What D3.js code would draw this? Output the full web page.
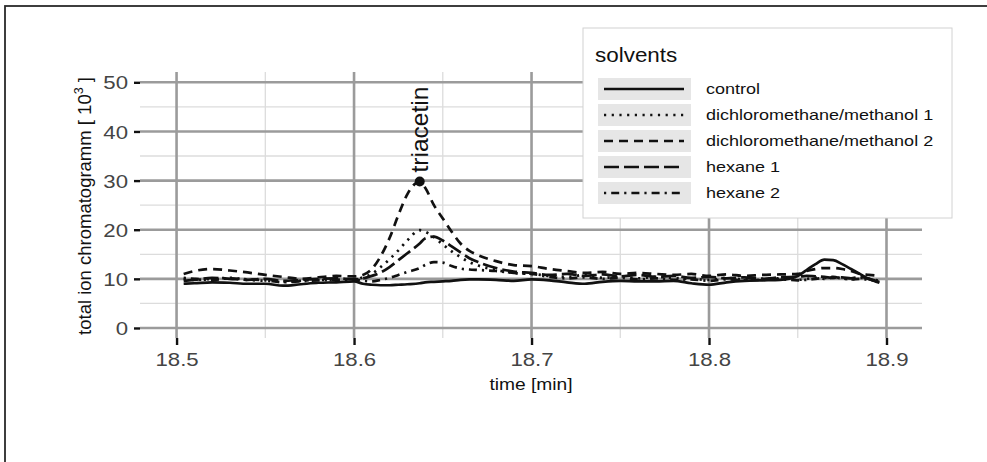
<!DOCTYPE html>
<html>
<head>
<meta charset="utf-8">
<script src="https://cdn.jsdelivr.net/npm/d3@7"></script>
<style>
  body { margin: 0; background: #fff; }
  svg { display: block; font-family: "Liberation Sans", Arial, sans-serif; }
</style>
</head>
<body>
<div id="chart"></div>
<script>
/*
** Data
*/
var times = [
    18.504, 18.51, 18.52, 18.53, 18.54, 18.55, 18.56, 18.57, 18.58, 18.59, 18.60
  , 18.605, 18.61, 18.615, 18.62, 18.625, 18.63, 18.637, 18.64, 18.645, 18.65, 18.655, 18.66, 18.665, 18.67
  , 18.68, 18.69, 18.70, 18.71, 18.72, 18.73, 18.74, 18.75, 18.76, 18.77, 18.78, 18.79, 18.80, 18.81, 18.82, 18.83, 18.84, 18.85
  , 18.855, 18.86, 18.865, 18.87, 18.875, 18.88, 18.885, 18.89, 18.896
];
var control = [
    9.0, 9.1, 9.3, 9.2, 9.0, 9.0, 8.6, 8.9, 9.2, 9.3, 9.5
  , 9.0, 8.8, 8.7, 8.7, 8.8, 8.9, 9.1, 9.3, 9.4, 9.5, 9.6, 9.8, 9.9, 9.9
  , 9.8, 9.6, 9.9, 9.7, 9.3, 9.0, 9.4, 9.6, 9.5, 9.5, 9.6, 9.1, 8.8, 9.3, 9.6, 9.7, 9.8, 10.6
  , 11.8, 13.0, 13.9, 13.8, 13.0, 12.0, 11.0, 10.0, 9.2
];
var dcmMethanol1 = [
    10.0, 9.8, 10.0, 10.2, 9.8, 9.6, 9.4, 9.6, 9.8, 9.7, 9.8
  , 10.3, 11.0, 12.4, 14.0, 15.8, 17.8, 19.9, 19.6, 18.5, 17.0, 15.6, 14.4, 13.4, 12.7
  , 11.8, 11.2, 11.0, 10.6, 10.4, 10.8, 10.2, 10.5, 10.1, 10.4, 10.2, 10.0, 9.8, 10.2, 9.9, 10.0, 10.1, 9.8
  , 10.0, 10.2, 10.0, 10.3, 10.1, 9.9, 10.2, 10.0, 9.6
];
var dcmMethanol2 = [
    11.0, 11.6, 12.0, 11.7, 11.3, 10.8, 10.4, 10.0, 10.3, 10.6, 10.5
  , 10.8, 12.0, 14.6, 18.3, 23.0, 27.2, 29.8, 28.6, 25.0, 22.3, 19.6, 17.2, 15.7, 14.8
  , 13.6, 12.8, 12.6, 12.0, 11.6, 11.2, 11.4, 11.0, 11.2, 11.0, 10.8, 11.0, 10.6, 10.9, 10.6, 10.8, 10.9, 11.0
  , 11.6, 12.0, 12.2, 12.2, 12.0, 11.6, 11.0, 10.8, 10.6
];
var hexane1 = [
    9.6, 9.8, 10.2, 10.0, 9.8, 10.0, 9.6, 9.8, 10.0, 10.1, 9.9
  , 10.1, 10.6, 11.3, 12.4, 13.8, 15.2, 17.2, 18.2, 18.6, 17.8, 16.6, 15.4, 14.2, 13.4
  , 12.2, 11.5, 11.2, 10.8, 11.0, 10.6, 10.9, 10.5, 10.8, 10.4, 10.6, 10.2, 10.4, 10.1, 10.3, 10.0, 10.3, 10.4
  , 10.6, 10.5, 10.4, 10.2, 10.3, 10.1, 10.4, 10.0, 9.4
];
var hexane2 = [
    10.2, 10.0, 9.8, 10.1, 9.9, 9.7, 9.3, 9.5, 9.7, 9.8, 9.9
  , 9.6, 9.5, 9.8, 10.2, 10.8, 11.4, 12.2, 12.8, 13.4, 13.3, 12.6, 12.1, 11.9, 11.8
  , 11.6, 11.2, 11.0, 10.4, 10.1, 10.3, 10.0, 10.2, 9.9, 10.1, 9.8, 9.9, 9.6, 9.9, 9.7, 9.8, 9.9, 9.7
  , 9.8, 10.0, 10.2, 10.4, 10.1, 9.9, 10.0, 9.8, 9.4
];
var solvents = ["control", "dichloromethane/methanol 1", "dichloromethane/methanol 2", "hexane 1", "hexane 2"];
var seriesValues = [control, dcmMethanol1, dcmMethanol2, hexane1, hexane2];
var dashes = [null, "2.2,5.5", "9,6", "15,5", "2.2,5,8,5"];
var xTicks = [18.5, 18.6, 18.7, 18.8, 18.9];
var xMinor = [18.55, 18.65, 18.75, 18.85];
var yTicks = [0, 10, 20, 30, 40, 50];
var yMinor = [5, 15, 25, 35, 45];
var peak = { label: "triacetin", time: 18.637, value: 29.8 };

/*
** Layout
*/
var width = 987
  , height = 462
  , margin = { top: 72, right: 65, bottom: 124, left: 140 }
  , innerW = width - margin.left - margin.right
  , innerH = height - margin.top - margin.bottom
  , scale = {
        x: d3.scaleLinear().domain([18.4794, 18.92]).range([0, innerW])
      , y: d3.scaleLinear().domain([-2.04, 52.1]).range([innerH, 0])
    }
;

// widen text to match the picture's broad lettering
function stretch(selection, k) {
    selection.each(function() {
        var len = this.getComputedTextLength();
        d3.select(this)
            .attr("textLength", len * k)
            .attr("lengthAdjust", "spacingAndGlyphs");
    });
} // stretch()

var svg = d3.select("#chart").append("svg")
    .attr("width", width)
    .attr("height", height)
;
// outer frame
svg.append("rect")
    .attr("x", 5).attr("y", 6)
    .attr("width", width + 20).attr("height", height + 20)
    .attr("fill", "none")
    .attr("stroke", "#2a2a2a")
    .attr("stroke-width", 1.8)
;

var g = svg.append("g")
    .attr("transform", "translate(" + margin.left + "," + margin.top + ")")
;

/*
** Grid
*/
var grid = g.append("g").attr("class", "grid");
grid.selectAll(".hminor").data(yMinor)
  .enter().append("line")
    .attr("x1", 0).attr("x2", innerW)
    .attr("y1", scale.y).attr("y2", scale.y)
    .attr("stroke", "#dcdcdc").attr("stroke-width", 1.3)
;
grid.selectAll(".vminor").data(xMinor)
  .enter().append("line")
    .attr("y1", 0).attr("y2", innerH)
    .attr("x1", scale.x).attr("x2", scale.x)
    .attr("stroke", "#dcdcdc").attr("stroke-width", 1.3)
;
grid.selectAll(".hmajor").data(yTicks)
  .enter().append("line")
    .attr("x1", 0).attr("x2", innerW)
    .attr("y1", scale.y).attr("y2", scale.y)
    .attr("stroke", "#9b9b9b").attr("stroke-width", 2.6)
;
grid.selectAll(".vmajor").data(xTicks)
  .enter().append("line")
    .attr("y1", 0).attr("y2", innerH)
    .attr("x1", scale.x).attr("x2", scale.x)
    .attr("stroke", "#9b9b9b").attr("stroke-width", 2.6)
;

/*
** Axes
*/
var yAxis = g.append("g")
    .call(d3.axisLeft(scale.y).tickValues(yTicks).tickSize(6).tickPadding(6).tickFormat(d3.format("d")))
;
var xAxis = g.append("g")
    .attr("transform", "translate(0," + innerH + ")")
    .call(d3.axisBottom(scale.x).tickValues(xTicks).tickSize(7).tickPadding(8).tickFormat(d3.format(".1f")))
;
[yAxis, xAxis].forEach(function(a) {
    a.select(".domain").remove();
    a.selectAll(".tick line").attr("stroke", "#111").attr("stroke-width", 2.4);
    a.selectAll(".tick text")
        .attr("fill", "#444")
        .style("font-size", "18.5px")
        .style("font-family", "'Liberation Sans', Arial, sans-serif")
        .call(stretch, 1.2);
});
yAxis.selectAll(".tick text").attr("dy", "0.36em");

svg.append("text")
    .attr("x", margin.left + innerW / 2)
    .attr("y", 390)
    .attr("text-anchor", "middle")
    .attr("fill", "#111")
    .style("font-size", "16px")
    .text("time [min]")
    .call(stretch, 1.2)
;
var yTitle = svg.append("text")
    .attr("transform", "translate(91,206) rotate(-90)")
    .attr("text-anchor", "middle")
    .attr("fill", "#111")
    .style("font-size", "18.5px")
;
yTitle.append("tspan").text("total ion chromatogramm [ 10");
yTitle.append("tspan").attr("dy", -8).style("font-size", "12.5px").text("3");
yTitle.append("tspan").attr("dy", 8).text(" ]");

/*
** Series
*/
var line = d3.line()
    .x(function(d) { return scale.x(d[0]); })
    .y(function(d) { return scale.y(d[1]); })
    .curve(d3.curveMonotoneX)
;
g.append("g").attr("class", "series")
  .selectAll("path")
    .data(seriesValues)
  .enter().append("path")
    .attr("d", function(vals) { return line(vals.map(function(v, i) { return [times[i], v]; })); })
    .attr("fill", "none")
    .attr("stroke", "#111")
    .attr("stroke-width", 2.7)
    .attr("stroke-dasharray", function(v, i) { return dashes[i]; })
;

// annotation
g.append("circle")
    .attr("cx", scale.x(peak.time))
    .attr("cy", scale.y(peak.value))
    .attr("r", 5)
    .attr("fill", "#111")
;
g.append("text")
    .attr("transform", "translate(" + (scale.x(peak.time) + 8) + "," + (scale.y(peak.value) - 9) + ") rotate(-90)")
    .attr("fill", "#111")
    .style("font-size", "24px")
    .text(peak.label)
    .attr("textLength", 86)
    .attr("lengthAdjust", "spacingAndGlyphs")
;

/*
** Legend
*/
var legend = svg.append("g").attr("transform", "translate(583,28)");
legend.append("rect")
    .attr("width", 369).attr("height", 190)
    .attr("fill", "#fff")
    .attr("stroke", "#d2d2d2").attr("stroke-width", 1)
;
legend.append("text")
    .attr("x", 12).attr("y", 34)
    .attr("fill", "#111")
    .style("font-size", "19.5px")
    .text("solvents")
    .call(stretch, 1.15)
;
var rows = legend.selectAll(".row")
    .data(solvents)
  .enter().append("g")
    .attr("transform", function(d, i) { return "translate(0," + (61 + i * 26) + ")"; })
;
rows.append("rect")
    .attr("x", 15).attr("y", -11)
    .attr("width", 93).attr("height", 22)
    .attr("fill", "#e6e6e6")
;
rows.append("line")
    .attr("x1", 21).attr("x2", 101)
    .attr("stroke", "#111")
    .attr("stroke-width", 2.6)
    .attr("stroke-dasharray", function(d, i) { return dashes[i]; })
;
rows.append("text")
    .attr("x", 123).attr("y", 5.3)
    .attr("fill", "#111")
    .style("font-size", "15px")
    .text(function(d) { return d; })
    .call(stretch, 1.2)
;
</script>
</body>
</html>
